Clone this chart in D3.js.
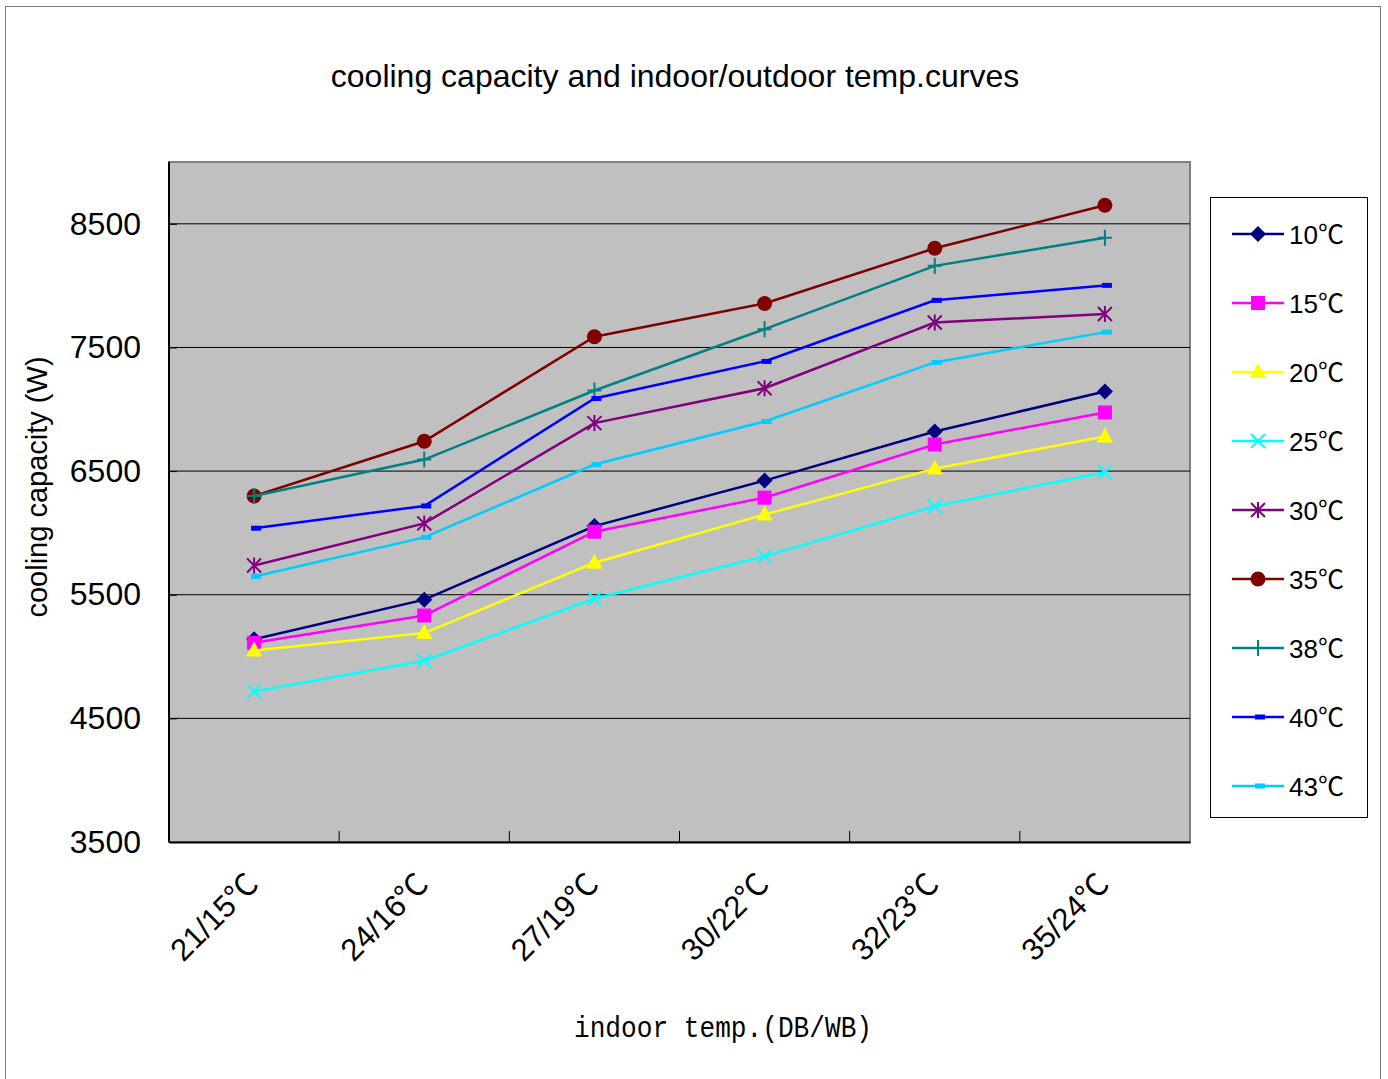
<!DOCTYPE html>
<html><head><meta charset="utf-8">
<script src="https://cdn.jsdelivr.net/npm/d3@7"></script>
<style>body{margin:0;background:#fff}svg{display:block}</style>
</head><body>
<svg id="c" width="1388" height="1079"></svg>
<script>
const categories = ["21/15℃","24/16℃","27/19℃","30/22℃","32/23℃","35/24℃"];
const seriesNames = ["10℃","15℃","20℃","25℃","30℃","35℃","38℃","40℃","43℃"];
const s10 = [5140,5460,6055,6423,6820,7144];
const s15 = [5111,5332,6010,6285,6715,6974];
const s20 = [5049,5190,5759,6148,6520,6780];
const s25 = [4718,4966,5468,5810,6215,6490];
const s30 = [5737,6077,6888,7170,7702,7770];
const s35 = [6298,6741,7587,7856,8302,8650];
const s38 = [6298,6593,7152,7648,8160,8387];
const s40 = [6038,6218,7087,7387,7881,8002];
const s43 = [5648,5964,6553,6901,7379,7624];
const yTicks = [3500,4500,5500,6500,7500,8500];
const seriesValues = [s10,s15,s20,s25,s30,s35,s38,s40,s43];
const colors = ["#000080","#FF00FF","#FFFF00","#00FFFF","#800080","#800000","#008080","#0000FF","#00CCFF"];
const markers = ["diamond","square","triangle","x","star","circle","plus","dash","dash"];

const svg = d3.select("#c");
svg.append("rect").attr("x",5.5).attr("y",6.5).attr("width",1375).attr("height",1080)
  .attr("fill","#fff").attr("stroke","#808080").attr("stroke-width",1);

const L=169, R=1190, T=162, B=842;
const x = d3.scaleBand().domain(categories).range([L,R]);
const y = d3.scaleLinear().domain([3500,9000]).range([B,T]);

svg.append("rect").attr("x",L).attr("y",T).attr("width",R-L).attr("height",B-T)
  .attr("fill","#C0C0C0").attr("stroke","#808080").attr("stroke-width",2);

svg.append("g").selectAll("line").data(yTicks.filter(v=>v>3500)).join("line")
  .attr("x1",L).attr("x2",R).attr("y1",d=>y(d)).attr("y2",d=>y(d))
  .attr("stroke","#000").attr("stroke-width",1);

const ya = svg.append("g").attr("transform",`translate(${L},0)`)
  .call(d3.axisLeft(y).tickValues(yTicks).tickSize(-8).tickPadding(28).tickFormat(d3.format("d")));
ya.select(".domain").attr("stroke","#000").attr("stroke-width",2).attr("d",`M0,${B}V${T}`);
ya.selectAll("line").attr("stroke","#000");
ya.selectAll("text").attr("font-family","Liberation Sans, Arial, sans-serif").attr("font-size",32).attr("fill","#000");

const xa = svg.append("g").attr("transform",`translate(0,${B})`)
  .call(d3.axisBottom(x).tickSize(0).tickFormat(""));
xa.select(".domain").attr("stroke","#000").attr("stroke-width",2);
svg.append("g").selectAll("line").data(categories.slice(1)).join("line")
  .attr("x1",d=>x(d)).attr("x2",d=>x(d)).attr("y1",B).attr("y2",B-11)
  .attr("stroke","#000").attr("stroke-width",1);
svg.append("g").selectAll("text").data(categories).join("text")
  .attr("transform",d=>`translate(${x(d)+x.bandwidth()/2+6},${B+44}) rotate(-45)`)
  .attr("text-anchor","end")
  .attr("font-family","Liberation Sans, Arial, 'Noto Sans CJK SC', sans-serif")
  .attr("font-size",31).attr("fill","#000").text(d=>d);

svg.append("text").attr("x",675).attr("y",87).attr("text-anchor","middle")
  .attr("font-family","Liberation Sans, Arial, sans-serif").attr("font-size",32).attr("fill","#000")
  .text("cooling capacity and indoor/outdoor temp.curves");
svg.append("text").attr("transform","translate(47,487) rotate(-90)").attr("text-anchor","middle")
  .attr("font-family","Liberation Sans, Arial, sans-serif").attr("font-size",29).attr("fill","#000")
  .text("cooling capacity (W)");
svg.append("text").attr("x",574).attr("y",1037)
  .attr("font-family","Liberation Mono, monospace").attr("font-size",30).attr("fill","#000")
  .attr("textLength",298).attr("lengthAdjust","spacingAndGlyphs")
  .text("indoor temp.(DB/WB)");

function drawMarker(g, type, color, cx, cy){
  if(type==="diamond"){
    g.append("path").attr("d",`M${cx},${cy-8}L${cx+8},${cy}L${cx},${cy+8}L${cx-8},${cy}Z`).attr("fill",color);
  } else if(type==="square"){
    g.append("rect").attr("x",cx-7).attr("y",cy-7).attr("width",14).attr("height",14).attr("fill",color);
  } else if(type==="triangle"){
    g.append("path").attr("d",`M${cx},${cy-9}L${cx+8},${cy+6}L${cx-8},${cy+6}Z`).attr("fill",color);
  } else if(type==="x"){
    g.append("path").attr("d",`M${cx-7},${cy-7}L${cx+7},${cy+7}M${cx-7},${cy+7}L${cx+7},${cy-7}`).attr("stroke",color).attr("stroke-width",2);
  } else if(type==="star"){
    g.append("path").attr("d",`M${cx-7},${cy-7}L${cx+7},${cy+7}M${cx-7},${cy+7}L${cx+7},${cy-7}M${cx},${cy-8}L${cx},${cy+8}`).attr("stroke",color).attr("stroke-width",2);
  } else if(type==="circle"){
    g.append("circle").attr("cx",cx).attr("cy",cy).attr("r",7.5).attr("fill",color);
  } else if(type==="plus"){
    g.append("path").attr("d",`M${cx-7},${cy}L${cx+7},${cy}M${cx},${cy-8}L${cx},${cy+8}`).attr("stroke",color).attr("stroke-width",2);
  } else if(type==="dash"){
    g.append("rect").attr("x",cx-3).attr("y",cy-2.5).attr("width",10).attr("height",5).attr("fill",color);
  }
}

const line = d3.line().x((d,i)=>x(categories[i])+x.bandwidth()/2).y(d=>y(d));
seriesValues.forEach((vals,si)=>{
  const g = svg.append("g");
  g.append("path").datum(vals).attr("d",line).attr("fill","none")
    .attr("stroke",colors[si]).attr("stroke-width",2.5);
  vals.forEach((v,i)=>drawMarker(g,markers[si],colors[si],x(categories[i])+x.bandwidth()/2,y(v)));
});

svg.append("rect").attr("x",1210.5).attr("y",197.5).attr("width",157).attr("height",620)
  .attr("fill","#fff").attr("stroke","#000").attr("stroke-width",1);
seriesNames.forEach((n,i)=>{
  const ly = 234 + i*69;
  const g = svg.append("g");
  g.append("line").attr("x1",1232).attr("x2",1284).attr("y1",ly).attr("y2",ly)
    .attr("stroke",colors[i]).attr("stroke-width",2.5);
  drawMarker(g,markers[i],colors[i],1258,ly);
  g.append("text").attr("x",1289).attr("y",ly+10)
    .attr("font-family","Liberation Sans, Arial, 'Noto Sans CJK SC', sans-serif")
    .attr("font-size",26).attr("fill","#000").text(n);
});
</script>
</body></html>
